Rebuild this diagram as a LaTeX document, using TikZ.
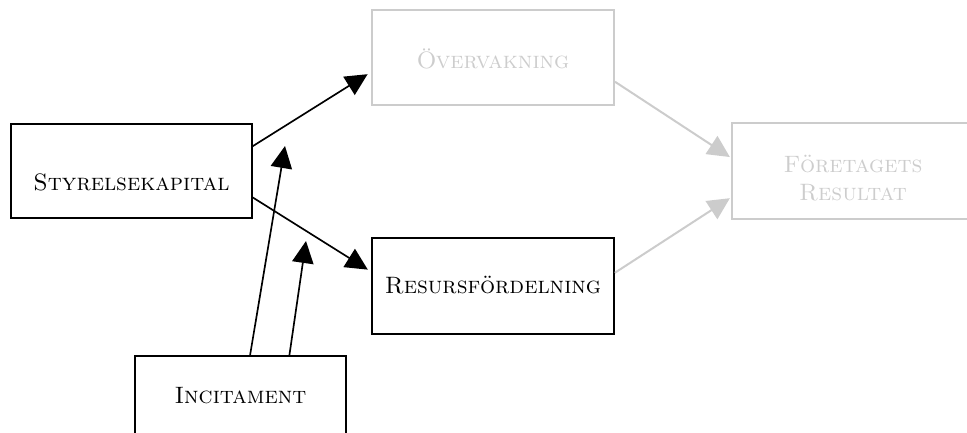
\documentclass[tikz,border=0pt]{standalone}
\usetikzlibrary{arrows.meta,calc}
\definecolor{faint}{RGB}{204,204,204}
\definecolor{fainttext}{RGB}{205,205,205}
\begin{document}
\begin{tikzpicture}[x=0.75pt,y=-0.75pt,
  box/.style={draw,rectangle,inner sep=0pt,line width=1.2pt},
  blackbox/.style={box,draw=black},
  greybox/.style={box,draw=faint,line width=1.5pt},
  lbl/.style={inner sep=0pt,anchor=base,font=\fontsize{17.8}{21}\selectfont\scshape},
  greylbl/.style={lbl,text=fainttext},
  blk/.style={draw=black,line width=1.25pt,-{Triangle[length=16.5pt,width=16pt]}},
  gry/.style={draw=faint,line width=1.5pt,-{Triangle[length=16.5pt,width=16pt]}}]
\useasboundingbox (0,0) rectangle (967,432);
\clip (0,0) rectangle (967,432);

% boxes
\node[blackbox,minimum width=241*0.75pt,minimum height=94*0.75pt] (sk) at (131.5,171) {};
\node[greybox,minimum width=242*0.75pt,minimum height=95*0.75pt] (ov) at (493,57.5) {};
\node[blackbox,minimum width=242*0.75pt,minimum height=96*0.75pt] (rf) at (493,286) {};
\node[greybox,minimum width=242*0.75pt,minimum height=96*0.75pt] (fr) at (853,171) {};
\node[blackbox,minimum width=211*0.75pt,minimum height=95*0.75pt] (inc) at (240.5,403.5) {};

% labels
\node[lbl] (skt) at (131.5,190) {Styrelsekapital};
\node[greylbl] (ovt) at (493,68) {Övervakning};
\node[lbl] (rft) at (493,293) {Resursfördelning};
\node[greylbl] (frt1) at (853,172) {Företagets};
\node[greylbl] (frt2) at (853,200) {Resultat};
\node[lbl] (inct) at (240.5,403) {Incitament};

% main paths
\draw[blk,shorten >=3pt] ($(sk.north east)!0.24!(sk.south east)$) -- ($(ov.north west)!0.65!(ov.south west)$);
\draw[blk,shorten >=3pt] ($(sk.north east)!0.777!(sk.south east)$) -- ($(rf.north west)!0.354!(rf.south west)$);
\draw[gry,shorten >=1pt] ($(ov.north east)!0.75!(ov.south east)$) -- ($(fr.north west)!0.365!(fr.south west)$);
\draw[gry,shorten >=1pt] ($(rf.north east)!0.365!(rf.south east)$) -- ($(fr.north west)!0.77!(fr.south west)$);

% moderating effects of incentives
\coordinate (m1) at (285,146);
\coordinate (m2) at (306,241);
\draw[blk] ($(inc.north west)!0.545!(inc.north east)$) -- (m1);
\draw[blk] ($(inc.north west)!0.73!(inc.north east)$) -- (m2);
\end{tikzpicture}
\end{document}
